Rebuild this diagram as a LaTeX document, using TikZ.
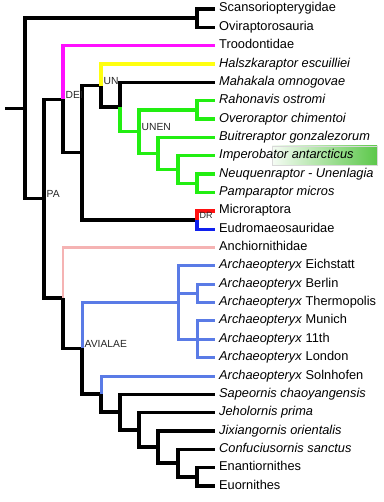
\documentclass[tikz,border=0pt]{standalone}
\usepackage{fontspec}
\setmainfont{Liberation Sans}
\definecolor{cmag}{HTML}{FF10FF}
\definecolor{cyel}{HTML}{FFFF10}
\definecolor{cgrn}{HTML}{22EE11}
\definecolor{cred}{HTML}{FF1010}
\definecolor{cblu}{HTML}{1020EE}
\definecolor{carch}{HTML}{5A7BE6}
\definecolor{cpink}{HTML}{F5B3B3}
\definecolor{chl}{HTML}{5CC84A}
\tikzset{
  br/.style={draw=#1, line width=3.4pt},
  br/.default=black,
  leaf/.style={anchor=west, inner xsep=4pt, inner ysep=0pt, text height=9pt, text depth=3pt, font=\fontsize{12.8}{14}\selectfont},
  clade/.style={anchor=south west, inner sep=1pt, xshift=1.5pt, font=\fontsize{10.3}{11}\selectfont, text=black!85},
}
\begin{document}
\begin{tikzpicture}[x=1pt, y=-1pt]
  \useasboundingbox (0,0) rectangle (383,502);
  % highlight behind Imperobator
  \shade[left color=chl!6, right color=chl, draw=black!15, line width=0.4pt] (272,146) rectangle (377,165);
  % taxa
  \foreach \t/\n [count=\i] in {Scansoriopterygidae/scan, Oviraptorosauria/ovi, Troodontidae/troo,
      \textit{Halszkaraptor escuilliei}/hal, \textit{Mahakala omnogovae}/mah, \textit{Rahonavis ostromi}/rah,
      \textit{Overoraptor chimentoi}/ove, \textit{Buitreraptor gonzalezorum}/bui, \textit{Imperobator antarcticus}/imp,
      \textit{Neuquenraptor - Unenlagia}/neu, \textit{Pamparaptor micros}/pam, Microraptora/mic,
      Eudromaeosauridae/eud, Anchiornithidae/anc, \textit{Archaeopteryx} Eichstatt/eic,
      \textit{Archaeopteryx} Berlin/ber, \textit{Archaeopteryx} Thermopolis/the, \textit{Archaeopteryx} Munich/mun,
      \textit{Archaeopteryx} 11th/ele, \textit{Archaeopteryx} London/lon, \textit{Archaeopteryx} Solnhofen/sol,
      \textit{Sapeornis chaoyangensis}/sap, \textit{Jeholornis prima}/jeh, \textit{Jixiangornis orientalis}/jix,
      \textit{Confuciusornis sanctus}/con, Enantiornithes/ena, Euornithes/euo}
    \node[leaf] (\n) at (215,{9+18.35*(\i-1)}) {\t};
  % internal nodes
  \coordinate (stub) at (5,108.39);
  \coordinate (root) at (25,108.39);
  \coordinate (scov) at (197,18.18);
  \coordinate (pa) at (44,198.6);
  \coordinate (dei) at (63,99.25);
  \coordinate (dro) at (82,152.79);
  \coordinate (un) at (101,85.56);
  \coordinate (uny) at (120,107.06);
  \coordinate (unen) at (139,131.72);
  \coordinate (raov) at (197,109.93);
  \coordinate (bim) at (158,153.51);
  \coordinate (inp) at (178,169.56);
  \coordinate (np) at (197,183.33);
  \coordinate (dr) at (197,220.03);
  \coordinate (pav) at (63,297.94);
  \coordinate (av) at (82,348.33);
  \coordinate (arch) at (178,302.6);
  \coordinate (bt) at (197,293.43);
  \coordinate (mlo) at (197,339.3);
  \coordinate (b1) at (101,394.06);
  \coordinate (b2) at (120,412.13);
  \coordinate (b3) at (139,429.9);
  \coordinate (b4) at (158,447.1);
  \coordinate (b5) at (178,463.16);
  \coordinate (orn) at (197,476.93);
  % branches
  \draw[br] (stub) -- (root);
  \foreach \a/\b in {root/scov, scov/scan, scov/ovi, root/pa, pa/dei, dei/dro, dro/un, dro/dr, un/uny, uny/mah,
      pa/pav, pav/av, av/b1, b1/b2, b2/sap, b2/b3, b3/jeh, b3/b4, b4/jix, b4/b5, b5/con, b5/orn, orn/ena, orn/euo}
    \draw[br] (\a) |- (\b);
  \draw[br=cmag] (dei) |- (troo);
  \draw[br=cyel] (un) |- (hal);
  \foreach \a/\b in {uny/unen, unen/raov, raov/rah, raov/ove, unen/bim, bim/bui, bim/inp, inp/imp, inp/np, np/neu, np/pam}
    \draw[br=cgrn] (\a) |- (\b);
  \draw[br=cred] (dr) |- (mic);
  \draw[br=cblu] (dr) |- (eud);
  \draw[br=cpink, line width=2.6pt] (pav) |- (anc);
  \foreach \a/\b in {av/arch, arch/eic, arch/bt, bt/ber, bt/the, arch/mlo, mlo/mun, mlo/ele, mlo/lon, b1/sol}
    \draw[br=carch, line width=3pt] (\a) |- (\b);
  % clade labels
  \node[clade] (ldei) at (dei) {DEI};
  \node[clade] (lun) at (un) {UN};
  \node[clade] (lunen) at (unen) {UNEN};
  \node[clade] (lpa) at (pa) {PA};
  \node[clade] (lav) at (av) {AVIALAE};
  \node[clade, font=\fontsize{9}{10}\selectfont] (ldr) at (dr) {DR};
\end{tikzpicture}
\end{document}
